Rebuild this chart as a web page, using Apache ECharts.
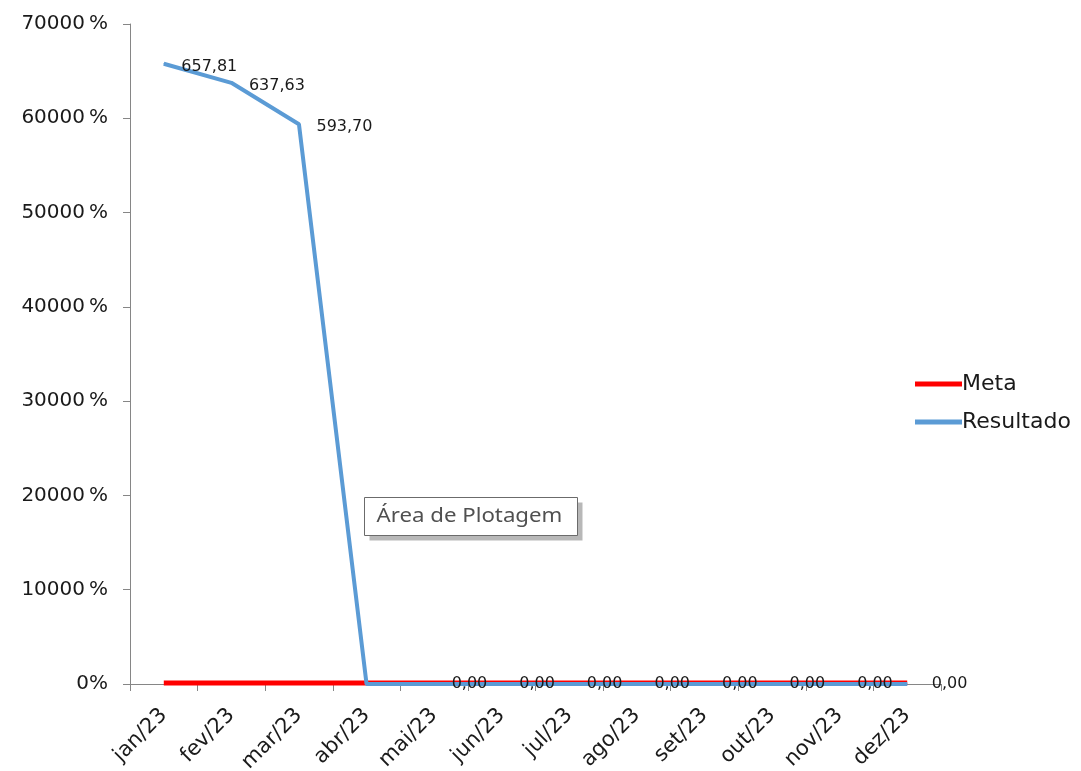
<!DOCTYPE html>
<html>
<head>
<meta charset="utf-8">
<script src="https://cdn.jsdelivr.net/npm/echarts@6/dist/echarts.min.js"></script>
<style>
html,body{margin:0;padding:0;background:#fff;}
#main{width:1081px;height:771px;}
</style>
</head>
<body>
<div id="main"></div>
<script>
const categories = ['jan/23','fev/23','mar/23','abr/23','mai/23','jun/23','jul/23','ago/23','set/23','out/23','nov/23','dez/23'];
const metaValues = [1, 1, 1, 1, 1, 1, 1, 1, 1, 1, 1, 1];
const resultadoValues = [657.81, 637.63, 593.70, 0, 0, 0, 0, 0, 0, 0, 0, 0];
const yTicks = [0, 100, 200, 300, 400, 500, 600, 700];

const fmt = v => v.toFixed(2).replace('.', ',');

const chart = echarts.init(document.getElementById('main'), null, {renderer: 'canvas'});

const resData = resultadoValues.map((v, i) => {
  const item = {value: v};
  if (i === 3) item.label = {show: false};
  if (i >= 4) item.label = {offset: [0, 0]};
  if (i === 11) item.label = {distance: 24, offset: [0, 0]};
  return item;
});

chart.setOption({
  animation: false,
  backgroundColor: '#ffffff',
  grid: {left: 130, right: 140, top: 24, bottom: 87, containLabel: false, outerBoundsMode: 'none'},
  legend: {
    orient: 'vertical',
    left: 910,
    top: 368,
    itemGap: 16,
    itemWidth: 47,
    itemHeight: 5,
    icon: 'rect',
    textStyle: {fontFamily: 'DejaVu Sans', fontSize: 22, color: '#1a1a1a', padding: [0, 0, 0, -5]},
    data: ['Meta', 'Resultado']
  },
  xAxis: {
    type: 'category',
    data: categories,
    boundaryGap: true,
    axisLine: {lineStyle: {color: '#868686', width: 1}},
    axisTick: {show: true, length: 7, lineStyle: {color: '#868686'}},
    axisLabel: {rotate: 45, fontFamily: 'DejaVu Sans', fontSize: 21, color: '#1a1a1a', margin: 28}
  },
  yAxis: {
    type: 'value',
    min: 0,
    max: 700,
    interval: 100,
    splitLine: {show: false},
    axisLine: {show: true, lineStyle: {color: '#868686', width: 1}},
    axisTick: {show: true, length: 7, lineStyle: {color: '#868686'}},
    axisLabel: {
      fontFamily: 'DejaVu Sans', fontSize: 20, color: '#1a1a1a', margin: 22,
      formatter: v => !yTicks.includes(v) ? '' : (v === 0 ? '0%' : Math.round(v * 100) + '\u2009%')
    }
  },
  series: [
    {
      name: 'Meta',
      type: 'line',
      data: metaValues,
      symbol: 'none',
      lineStyle: {color: '#ff0000', width: 5},
      itemStyle: {color: '#ff0000'},
      z: 2
    },
    {
      name: 'Resultado',
      type: 'line',
      data: resData,
      symbol: 'circle',
      symbolSize: 1,
      lineStyle: {color: '#5b9bd5', width: 4},
      itemStyle: {color: '#5b9bd5'},
      z: 3,
      label: {
        show: true,
        position: 'right',
        distance: 17,
        offset: [0, 3],
        fontFamily: 'DejaVu Sans',
        fontSize: 16,
        color: '#1a1a1a',
        formatter: p => fmt(p.value)
      },
      labelLine: {show: false}
    }
  ],
  graphic: [
    {
      type: 'group',
      left: 364,
      top: 497,
      children: [
        {type: 'rect', shape: {x: 5, y: 5, width: 213, height: 38}, style: {fill: 'rgba(0,0,0,0.28)'}},
        {type: 'rect', shape: {x: 0, y: 0, width: 213, height: 38}, style: {fill: '#ffffff', stroke: '#6b6b6b', lineWidth: 1}},
        {type: 'text', x: 12, y: 10, scaleX: 1.17, style: {text: 'Área de Plotagem', fontFamily: 'Noto Sans', fontSize: 19, fill: '#505050'}}
      ]
    }
  ]
});
</script>
</body>
</html>
